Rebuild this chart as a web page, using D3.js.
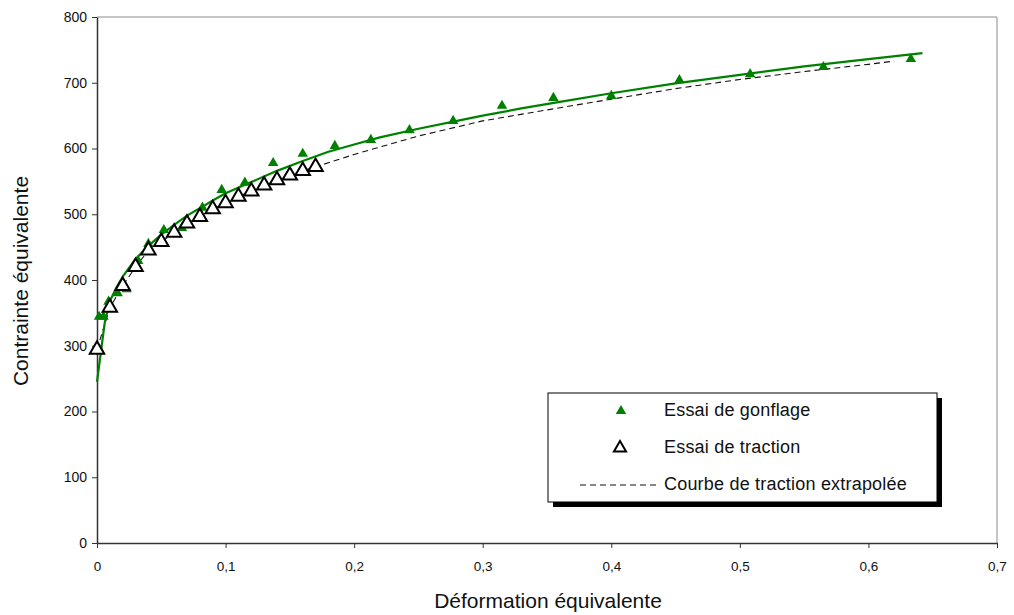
<!DOCTYPE html>
<html><head><meta charset="utf-8">
<script src="https://cdn.jsdelivr.net/npm/d3@7"></script>
<style>
body{margin:0;background:#fff;}
svg{display:block;font-family:"Liberation Sans",Arial,sans-serif;}
</style></head>
<body>
<svg id="chart" width="1014" height="615"></svg>
<script>
// Essai de gonflage (green filled triangles)
const gonflageX = [0.0016,0.005,0.002,0.009,0.016,0.023,0.032,0.040,0.052,0.066,0.082,0.097,0.115,0.137,0.160,0.185,0.213,0.243,0.277,0.315,0.355,0.400,0.453,0.508,0.565,0.633];
const gonflageY = [344,344,294,367,380,386,429,455,476,479,510,537,548,578,592,604,613,628,642,665,677,680,704,713,724,736];
// Essai de traction (hollow black triangles)
const tractionX = [0,0.01,0.02,0.03,0.04,0.05,0.06,0.07,0.08,0.09,0.10,0.11,0.12,0.13,0.14,0.15,0.16,0.17];
const tractionY = [294,358,391,420,445,458,472,486,496,508,517,527,535,544,552,559,566,572];
// Fitted curve (green solid line)
const fitX = [0,0.003,0.006,0.01,0.015,0.02,0.03,0.04,0.05,0.06,0.07,0.08,0.09,0.10,0.12,0.14,0.16,0.18,0.20,0.22,0.25,0.28,0.30,0.33,0.36,0.40,0.45,0.50,0.55,0.60,0.642];
const fitY = [245,290,335,368,388,405,432,452,469,484,498,509,521,532,549,566,581,595,606,617,630,642,650,661,671,684,699,712,725,736,745];
// Courbe de traction extrapolée (dashed line)
const extraX = [0,0.01,0.02,0.03,0.04,0.05,0.06,0.07,0.08,0.09,0.10,0.11,0.12,0.13,0.14,0.15,0.16,0.17,0.20,0.25,0.30,0.36,0.40,0.45,0.50,0.55,0.60,0.62];
const extraY = [294,358,391,420,445,458,472,486,496,508,517,527,535,544,552,559,566,572,591,619,642,662,675,691,705,717,728,733];
// Axis ticks
const xTicks = [0,0.1,0.2,0.3,0.4,0.5,0.6,0.7];
const xTickLabels = ["0","0,1","0,2","0,3","0,4","0,5","0,6","0,7"];
const yTicks = [0,100,200,300,400,500,600,700,800];
const legendLabels = ["Essai de gonflage","Essai de traction","Courbe de traction extrapolée"];
const xTitle = "Déformation équivalente";
const yTitle = "Contrainte équivalente";

const svg = d3.select("#chart");
const L = 97, T = 17, R = 997, B = 543;
const x = d3.scaleLinear().domain([0,0.7]).range([L,R]);
const y = d3.scaleLinear().domain([0,800]).range([B,T]);
const green = "#008000";

// frame top/right
svg.append("path").attr("d",`M${L},${T}H${R}V${B}`).attr("fill","none").attr("stroke","#8c8c8c").attr("stroke-width",1);

// axes
const xAxis = svg.append("g").attr("transform",`translate(0,${B})`)
  .call(d3.axisBottom(x).tickValues(xTicks).tickFormat((d,i)=>xTickLabels[i]).tickSize(5).tickPadding(13).tickSizeOuter(0));
const yAxis = svg.append("g").attr("transform",`translate(${L},0)`)
  .call(d3.axisLeft(y).tickValues(yTicks).tickSize(5).tickPadding(5).tickSizeOuter(0));
[xAxis,yAxis].forEach(a=>{
  a.select(".domain").attr("stroke","#333").attr("stroke-width",1.5);
  a.selectAll(".tick line").attr("stroke","#333");
  a.selectAll("text").attr("fill","#111").attr("font-family","'Liberation Sans',Arial,sans-serif");
});
xAxis.selectAll("text").attr("font-size",13.5);
yAxis.selectAll("text").attr("font-size",14);

// titles
svg.append("text").attr("x",548).attr("y",608).attr("text-anchor","middle")
  .attr("font-size",21).attr("fill","#111").text(xTitle);
svg.append("text").attr("transform",`translate(28,281) rotate(-90)`).attr("text-anchor","middle")
  .attr("font-size",21).attr("fill","#111").text(yTitle);

// lines
const line = d3.line().x(d=>x(d[0])).y(d=>y(d[1]));
const extraData = extraX.map((v,i)=>[v,extraY[i]]);
const fitData = fitX.map((v,i)=>[v,fitY[i]]);
svg.append("path").datum(extraData).attr("d",line).attr("fill","none")
  .attr("stroke","#111").attr("stroke-width",1.1).attr("stroke-dasharray","6,4");
svg.append("path").datum(fitData).attr("d",line).attr("fill","none")
  .attr("stroke",green).attr("stroke-width",2.2);

// markers
const triGreen = d3.symbol().type(d3.symbolTriangle).size(48);
const triBlack = d3.symbol().type(d3.symbolTriangle).size(90);
svg.append("g").selectAll("path").data(gonflageX.map((v,i)=>[v,gonflageY[i]])).join("path")
  .attr("d",triGreen).attr("transform",d=>`translate(${x(d[0])},${y(d[1])})`).attr("fill",green);
svg.append("g").selectAll("path").data(tractionX.map((v,i)=>[v,tractionY[i]])).join("path")
  .attr("d",triBlack).attr("transform",d=>`translate(${x(d[0])},${y(d[1])})`)
  .attr("fill","#fff").attr("stroke","#000").attr("stroke-width",2);

// legend
const lg = svg.append("g");
lg.append("rect").attr("x",553).attr("y",398).attr("width",389).attr("height",109).attr("fill","#000");
lg.append("rect").attr("x",548).attr("y",393).attr("width",389).attr("height",109).attr("fill","#fff").attr("stroke","#000").attr("stroke-width",1);
lg.append("path").attr("d",triGreen).attr("transform","translate(621,411)").attr("fill",green);
lg.append("path").attr("d",d3.symbol().type(d3.symbolTriangle).size(64)).attr("transform","translate(620,448)")
  .attr("fill","#fff").attr("stroke","#000").attr("stroke-width",2);
lg.append("line").attr("x1",580).attr("x2",658).attr("y1",485).attr("y2",485)
  .attr("stroke","#111").attr("stroke-width",1).attr("stroke-dasharray","6,4");
const ly = [410,447,484];
lg.selectAll("text.lab").data(legendLabels).join("text").attr("class","lab")
  .attr("x",664).attr("y",(d,i)=>ly[i]).attr("dy","0.35em").attr("font-size",18).attr("letter-spacing",0.2).attr("fill","#111").text(d=>d);
</script>
</body></html>
